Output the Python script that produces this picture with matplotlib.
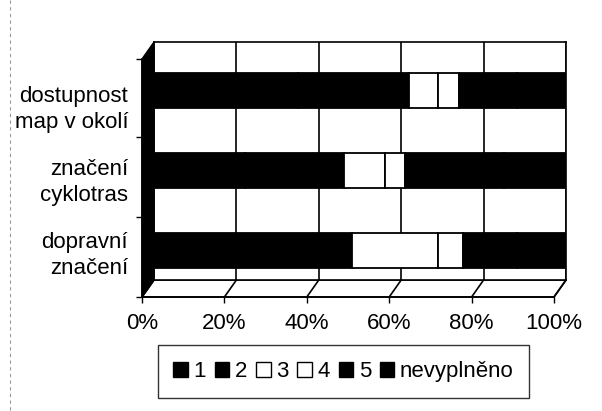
import matplotlib
matplotlib.use("Agg")
import matplotlib.pyplot as plt
import numpy as np
from matplotlib.patches import Polygon, Patch

plt.rcParams['font.family'] = ['Liberation Sans', 'DejaVu Sans']

# data (percent of answers, bottom -> top)
categories = ["dopravní\nznačení", "značení\ncyklotras", "dostupnost\nmap v okolí"]
series = ["1", "2", "3", "4", "5", "nevyplněno"]
s1 = [20, 22, 35]
s2 = [28, 24, 27]
s3 = [21, 10, 7]
s4 = [6, 5, 5]
s5 = [13, 24, 14]
s_nev = [12, 15, 12]
x_ticks = [0, 20, 40, 60, 80, 100]
x_labels = ["0%", "20%", "40%", "60%", "80%", "100%"]

fills = ["black", "black", "white", "white", "black", "black"]

W, H = 602, 411
fig = plt.figure(figsize=(W / 100, H / 100), dpi=100)


def box(l, t, r, b):
    return [l / W, 1 - b / H, (r - l) / W, (b - t) / H]


# back wall in pixels, and the 3d depth offset
bl, bt, br, bb = 154, 42, 566, 280
dx, dy = -12, 17

# decoration layer (left wall, floor, border line)
deco = fig.add_axes([0, 0, 1, 1], zorder=0)
deco.set_xlim(0, W)
deco.set_ylim(H, 0)
deco.axis("off")
deco.add_patch(Polygon([(bl, bt), (bl, bb), (bl + dx, bb + dy), (bl + dx, bt + dy)],
                       closed=True, facecolor="black", edgecolor="black", lw=1))
deco.add_patch(Polygon([(bl, bb), (br, bb), (br + dx, bb + dy), (bl + dx, bb + dy)],
                       closed=True, facecolor="white", edgecolor="black", lw=1.2))
for t in x_ticks:
    xb = bl + t / 100 * (br - bl)
    deco.plot([xb, xb + dx], [bb, bb + dy], color="black", lw=1.2)
deco.plot([10, 10], [0, H], color="0.6", ls=(0, (3, 3)), lw=0.8)

# back wall with bars
ax = fig.add_axes(box(bl, bt, br, bb), zorder=1)
ypos = np.arange(len(categories))
data = [s1, s2, s3, s4, s5, s_nev]
left = np.zeros(len(categories))
for vals, fc in zip(data, fills):
    ax.barh(ypos, vals, left=left, height=0.44, color=fc, edgecolor="black", lw=1.3, zorder=3)
    left += np.array(vals)
ax.set_xlim(0, 100)
ax.set_ylim(-0.37, 2.61)
ax.set_xticks(x_ticks)
ax.set_yticks([])
ax.grid(axis="x", color="black", lw=1.2)
ax.tick_params(axis="x", length=0, labelbottom=False)
for sp in ax.spines.values():
    sp.set_color("black")
    sp.set_linewidth(1.2)

# front edge with tick labels (labels sit a bit tighter than the category slots)
fr = fig.add_axes(box(bl + dx, bt + dy, br + dx, bb + dy), zorder=2)
fr.patch.set_alpha(0)
fr.set_xlim(0, 100)
fr.set_ylim(-0.64, 2.62)
fr.set_xticks(x_ticks)
fr.set_xticklabels(x_labels, fontsize=16)
fr.set_yticks(ypos)
fr.set_yticklabels(categories, fontsize=16, linespacing=1.32)
fr.set_yticks([-0.64, 0.455, 1.55, 2.62], minor=True)
fr.tick_params(axis="x", length=4.5, width=1, pad=7)
fr.tick_params(axis="y", which="major", length=0, pad=10)
fr.tick_params(axis="y", which="minor", length=4, width=1)
fr.spines["top"].set_visible(False)
fr.spines["right"].set_visible(False)
fr.spines["bottom"].set_linewidth(1.2)
fr.spines["left"].set_linewidth(1.2)

handles = [Patch(facecolor=fc, edgecolor="black", lw=1) for fc in fills]
leg = fig.legend(handles, series, loc="center", bbox_to_anchor=(343.5 / W, 1 - 371.5 / H),
                 ncol=6, frameon=True, fancybox=False, edgecolor="black", fontsize=16,
                 handlelength=0.65, handleheight=0.65, handletextpad=0.25,
                 columnspacing=0.4, borderpad=0.7, borderaxespad=0)
leg.get_frame().set_linewidth(1.0)

fig.savefig("out.png", dpi=100)
